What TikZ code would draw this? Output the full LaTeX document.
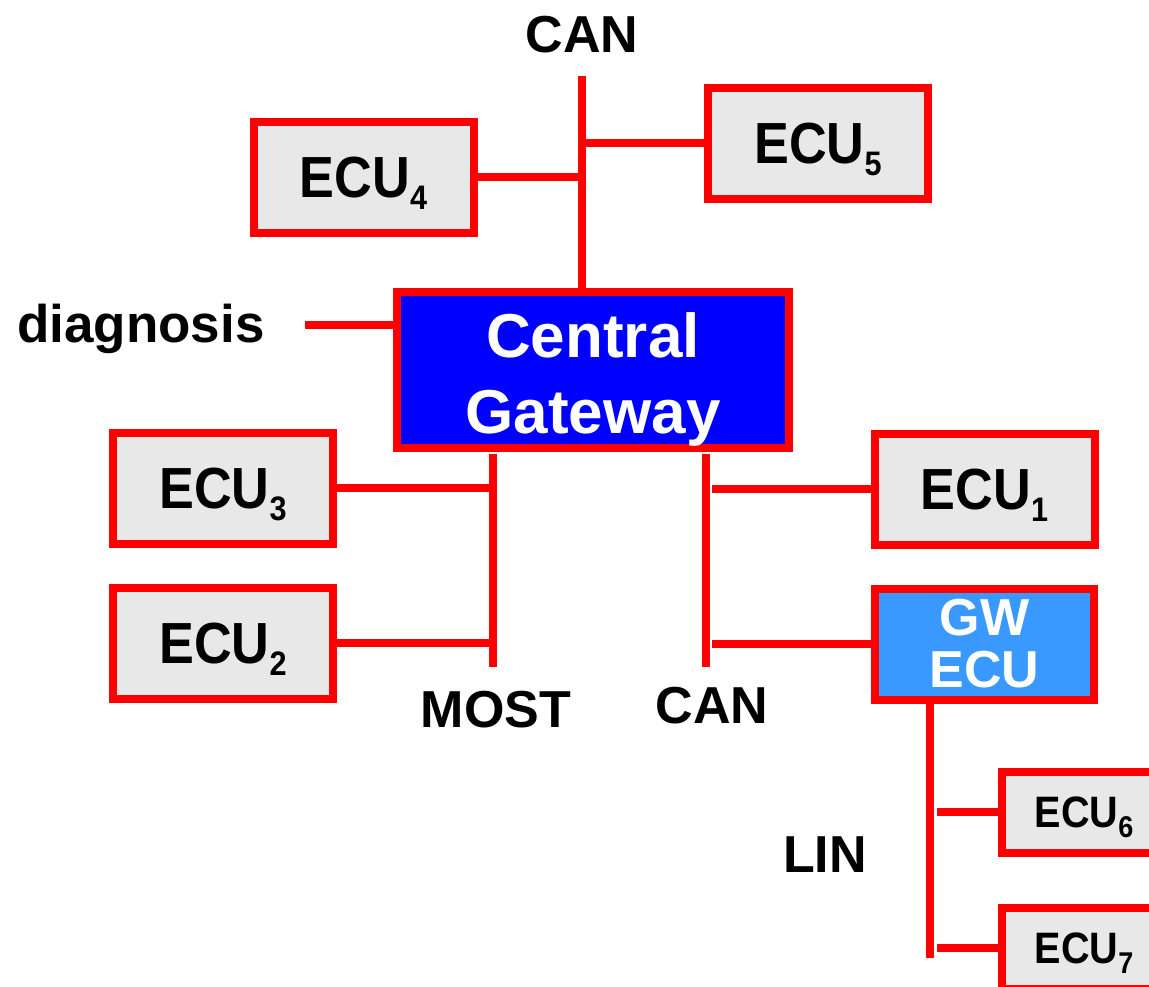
\documentclass[tikz,border=0pt]{standalone}
\usepackage{fontspec}
\setmainfont{Liberation Sans}
\newfontfamily\narrowsans{Liberation Sans}[FakeStretch=0.9]

\definecolor{busred}{RGB}{255,0,0}
\definecolor{ecugray}{RGB}{232,232,232}
\definecolor{cgblue}{RGB}{0,0,255}
\definecolor{gwblue}{RGB}{57,153,255}

% ECU names with a lowered index digit
\newcommand\ecubig[1]{ECU\raisebox{-12pt}{\fontsize{34}{34}\selectfont #1}}
\newcommand\ecusmall[1]{ECU\raisebox{-10pt}{\fontsize{30}{30}\selectfont #1}}

\begin{document}
\begin{tikzpicture}[x=1pt,y=-1pt,
  bus/.style={draw=busred, line width=8pt},
  ecubox/.style={draw=busred, line width=8pt, fill=ecugray, inner sep=0pt,
    minimum width=220pt, minimum height=111pt, text depth=0pt,
    font={\narrowsans\bfseries\fontsize{58}{62}\selectfont}},
  ecusmallbox/.style={draw=busred, line width=8pt, fill=ecugray, inner sep=0pt,
    minimum width=164pt, minimum height=81pt, text depth=0pt,
    font={\narrowsans\bfseries\fontsize{44}{48}\selectfont}},
  cgbox/.style={draw=busred, line width=8pt, fill=cgblue, inner sep=0pt,
    minimum width=392pt, minimum height=156pt, text=white, align=center,
    font={\bfseries\fontsize{62}{76}\selectfont}},
  gwbox/.style={draw=busred, line width=8pt, fill=gwblue, inner sep=0pt,
    minimum width=219pt, minimum height=111pt, text=white, align=center,
    font={\bfseries\fontsize{52}{52}\selectfont}},
  lbl/.style={inner sep=0pt, font={\bfseries\fontsize{52}{56}\selectfont}}
]
\useasboundingbox (0,0) rectangle (1149,986);
\clip (0,0) rectangle (1149,986);

% bus end points
\coordinate (canA) at (582,76);
\coordinate (diagA) at (305,325);
\coordinate (mostA) at (493,454);
\coordinate (mostB) at (493,667);
\coordinate (canRA) at (706,454);
\coordinate (canRB) at (706,667);
\coordinate (linB) at (930,958);

% devices
\node[cgbox] (cg) at (593,370) {\rule{0pt}{63pt}Central\\Gateway};
\node[ecubox] (ecu4) at (363.5,177) {\ecubig{4}};
\node[ecubox] (ecu5) at (818,143) {\ecubig{5}};
\node[ecubox] (ecu3) at (223,488) {\ecubig{3}};
\node[ecubox] (ecu2) at (223,643) {\ecubig{2}};
\node[ecubox] (ecu1) at (984.5,489) {\ecubig{1}};
\node[gwbox] (gw) at (984.5,644) {GW\\ECU};
\node[ecusmallbox] (ecu6) at (1084,812) {\ecusmall{6}};
\node[ecusmallbox] (ecu7) at (1084,948) {\ecusmall{7}};

% bus labels
\node[lbl, anchor=base] (cantop) at (582,52) {CAN};
\node[lbl, anchor=base west, font={\bfseries\fontsize{53}{56}\selectfont}] (diag) at (17,342) {diagnosis};
\node[lbl, anchor=base] (most) at (496,727) {MOST};
\node[lbl, anchor=base] (canbot) at (712,723) {CAN};
\node[lbl, anchor=base] (lin) at (825,872) {LIN};

% buses and stubs
\draw[bus] (canA) -- (canA |- cg.north);
\draw[bus] (ecu4.east) -- (ecu4.east -| canA);
\draw[bus] (ecu5.west) -- (ecu5.west -| canA);
\draw[bus] (diagA) -- (diagA -| cg.west);
\draw[bus] (mostA) -- (mostB);
\draw[bus] (ecu3.east) -- (ecu3.east -| mostA);
\draw[bus] (ecu2.east) -- (ecu2.east -| mostA);
\draw[bus] (canRA) -- (canRB);
\draw[bus, shorten >=6pt] (ecu1.west) -- (ecu1.west -| canRA);
\draw[bus, shorten >=6pt] (gw.west) -- (gw.west -| canRA);
\draw[bus] (linB |- gw.south) -- (linB);
\draw[bus, shorten >=7pt] (ecu6.west) -- (ecu6.west -| linB);
\draw[bus, shorten >=7pt] (ecu7.west) -- (ecu7.west -| linB);
\end{tikzpicture}
\end{document}
